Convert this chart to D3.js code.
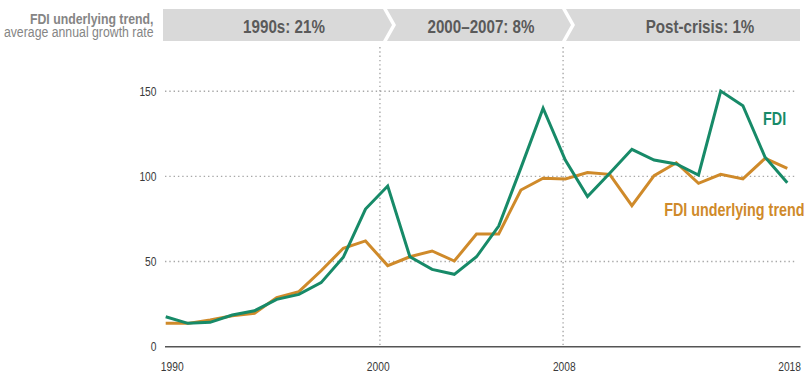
<!DOCTYPE html>
<html>
<head>
<meta charset="utf-8">
<script src="https://cdn.jsdelivr.net/npm/d3@7/dist/d3.min.js"></script>
<style>
  html, body { margin: 0; padding: 0; background: #fff; }
  svg { display: block; font-family: "Liberation Sans", Arial, sans-serif; }
</style>
</head>
<body>
<svg id="chart" width="810" height="379"></svg>
<script>
// ---- data ----
const years = [1990, 1991, 1992, 1993, 1994, 1995, 1996, 1997, 1998, 1999,
               2000, 2001, 2002, 2003, 2004, 2005, 2006, 2007, 2008, 2009,
               2010, 2011, 2012, 2013, 2014, 2015, 2016, 2017, 2018];
const fdi = [17.6, 13.7, 14.3, 18.6, 21.1, 27.8, 30.7, 37.6, 52.5, 80.8,
             94.3, 52.8, 45.4, 42.5, 52.8, 70.8, 105, 140, 109.6, 88.1,
             101.8, 115.9, 109.6, 107.3, 100.8, 150.1, 141.5, 111.2, 96.3];
const trend = [13.7, 13.7, 15.7, 18.2, 19.6, 28.8, 32.3, 44.6, 57.8, 62.1,
               47.6, 52.8, 56.2, 50.3, 66.2, 66.2, 92, 98.9, 98.5, 102.2,
               101.2, 82.8, 100.4, 108, 95.9, 101.2, 98.5, 110.6, 104.7];
const yTicks = [0, 50, 100, 150];
const xTickLabels = [1990, 2000, 2008, 2018];
const periodDividers = [2000, 2008];
const periodLabels = ["1990s: 21%", "2000\u20132007: 8%", "Post-crisis: 1%"];
const titleLines = ["FDI underlying trend,", "average annual growth rate"];
const seriesNames = ["FDI", "FDI underlying trend"];

// ---- styles / layout ----
const GREEN = "#178a68";
const ORANGE = "#cf8a2a";
const NARROW = 0.82;
const svg = d3.select("#chart");

// narrow text helper: draws text horizontally condensed at (px, py)
function narrowText(sel, px, py) {
  return sel.attr("x", 0).attr("y", 0)
    .attr("transform", (d, i) => {
      const xx = typeof px === "function" ? px(d, i) : px;
      const yy = typeof py === "function" ? py(d, i) : py;
      return `translate(${xx},${yy}) scale(${NARROW},1)`;
    });
}

const x = d3.scaleLinear().domain([1990, 2018]).range([165.7, 787.3]);
const y = d3.scaleLinear().domain([0, 150]).range([346.7, 91.2]);

// header boxes
const hdrTop = 9, hdrBot = 41, hdrMid = 25, depth = 9, gap = 4;
const bounds = [163, 383, 562, 800];
const boxes = periodLabels.map((lab, i) => {
  const l = bounds[i], r = bounds[i + 1];
  const pts = [];
  pts.push([i === 0 ? l : l + gap, hdrTop]);
  if (i < 2) {
    pts.push([r, hdrTop], [r + depth, hdrMid], [r, hdrBot]);
  } else {
    pts.push([r, hdrTop], [r, hdrBot]);
  }
  pts.push([i === 0 ? l : l + gap, hdrBot]);
  if (i > 0) pts.push([l + gap + depth, hdrMid]);
  return { lab, pts };
});
svg.append("g").selectAll("polygon").data(boxes).join("polygon")
  .attr("points", d => d.pts.map(p => p.join(",")).join(" "))
  .attr("fill", "#d9d9d9");
const labelCenters = [284, 481, 700];
narrowText(svg.append("g").selectAll("text").data(boxes).join("text"),
    (d, i) => labelCenters[i], 33.3)
  .attr("text-anchor", "middle")
  .attr("font-weight", "bold")
  .attr("font-size", "18.5px")
  .attr("fill", "#5a5a5a")
  .text(d => d.lab);

// title
narrowText(svg.append("g").selectAll("text").data(titleLines).join("text"),
    153.5, (d, i) => i === 0 ? 24 : 37)
  .attr("text-anchor", "end")
  .attr("font-weight", (d, i) => i === 0 ? "bold" : "normal")
  .attr("font-size", "15px")
  .attr("fill", "#858585")
  .text(d => d);

// horizontal gridlines
svg.append("g").selectAll("line").data(yTicks.filter(d => d > 0)).join("line")
  .attr("x1", 165).attr("x2", 797)
  .attr("y1", d => y(d)).attr("y2", d => y(d))
  .attr("stroke", "#a8a8a8").attr("stroke-width", 1.4)
  .attr("stroke-dasharray", "1.4,2.9");

// vertical period dividers
const step = x(1991) - x(1990);
const dividerShift = [-0.35, -0.1];
svg.append("g").selectAll("line").data(periodDividers).join("line")
  .attr("x1", (d, i) => x(d) + dividerShift[i] * step)
  .attr("x2", (d, i) => x(d) + dividerShift[i] * step)
  .attr("y1", 47).attr("y2", 345)
  .attr("stroke", "#a8a8a8").attr("stroke-width", 1.4)
  .attr("stroke-dasharray", "1.4,2.9");

// y tick labels
narrowText(svg.append("g").selectAll("text").data(yTicks).join("text"),
    156.5, d => y(d) + 4.3)
  .attr("text-anchor", "end")
  .attr("font-size", "12.5px")
  .attr("fill", "#3a3a3a")
  .text(d => d);

// x axis line
svg.append("line")
  .attr("x1", 165).attr("x2", 800.5)
  .attr("y1", y(0)).attr("y2", y(0))
  .attr("stroke", "#555").attr("stroke-width", 1.5);

// x tick labels
const xLabelShift = [6.5, -9.5, -1, 2.3];
narrowText(svg.append("g").selectAll("text").data(xTickLabels).join("text"),
    (d, i) => x(d) + xLabelShift[i], 371)
  .attr("text-anchor", "middle")
  .attr("font-size", "12.5px")
  .attr("fill", "#3a3a3a")
  .text(d => d);

// lines
const line = d3.line().x(d => x(d[0])).y(d => y(d[1]));
const trendPts = years.map((yr, i) => [yr, trend[i]]);
const fdiPts = years.map((yr, i) => [yr, fdi[i]]);
svg.append("path").datum(trendPts)
  .attr("d", line).attr("fill", "none")
  .attr("stroke", ORANGE).attr("stroke-width", 3)
  .attr("stroke-linejoin", "miter");
svg.append("path").datum(fdiPts)
  .attr("d", line).attr("fill", "none")
  .attr("stroke", GREEN).attr("stroke-width", 3)
  .attr("stroke-linejoin", "miter");

// series labels
narrowText(svg.append("text"), 763, 125)
  .attr("font-weight", "bold").attr("font-size", "17.5px")
  .attr("fill", GREEN).text(seriesNames[0]);
narrowText(svg.append("text"), 804.5, 216)
  .attr("text-anchor", "end")
  .attr("font-weight", "bold").attr("font-size", "17.5px")
  .attr("fill", ORANGE).text(seriesNames[1]);
</script>
</body>
</html>
